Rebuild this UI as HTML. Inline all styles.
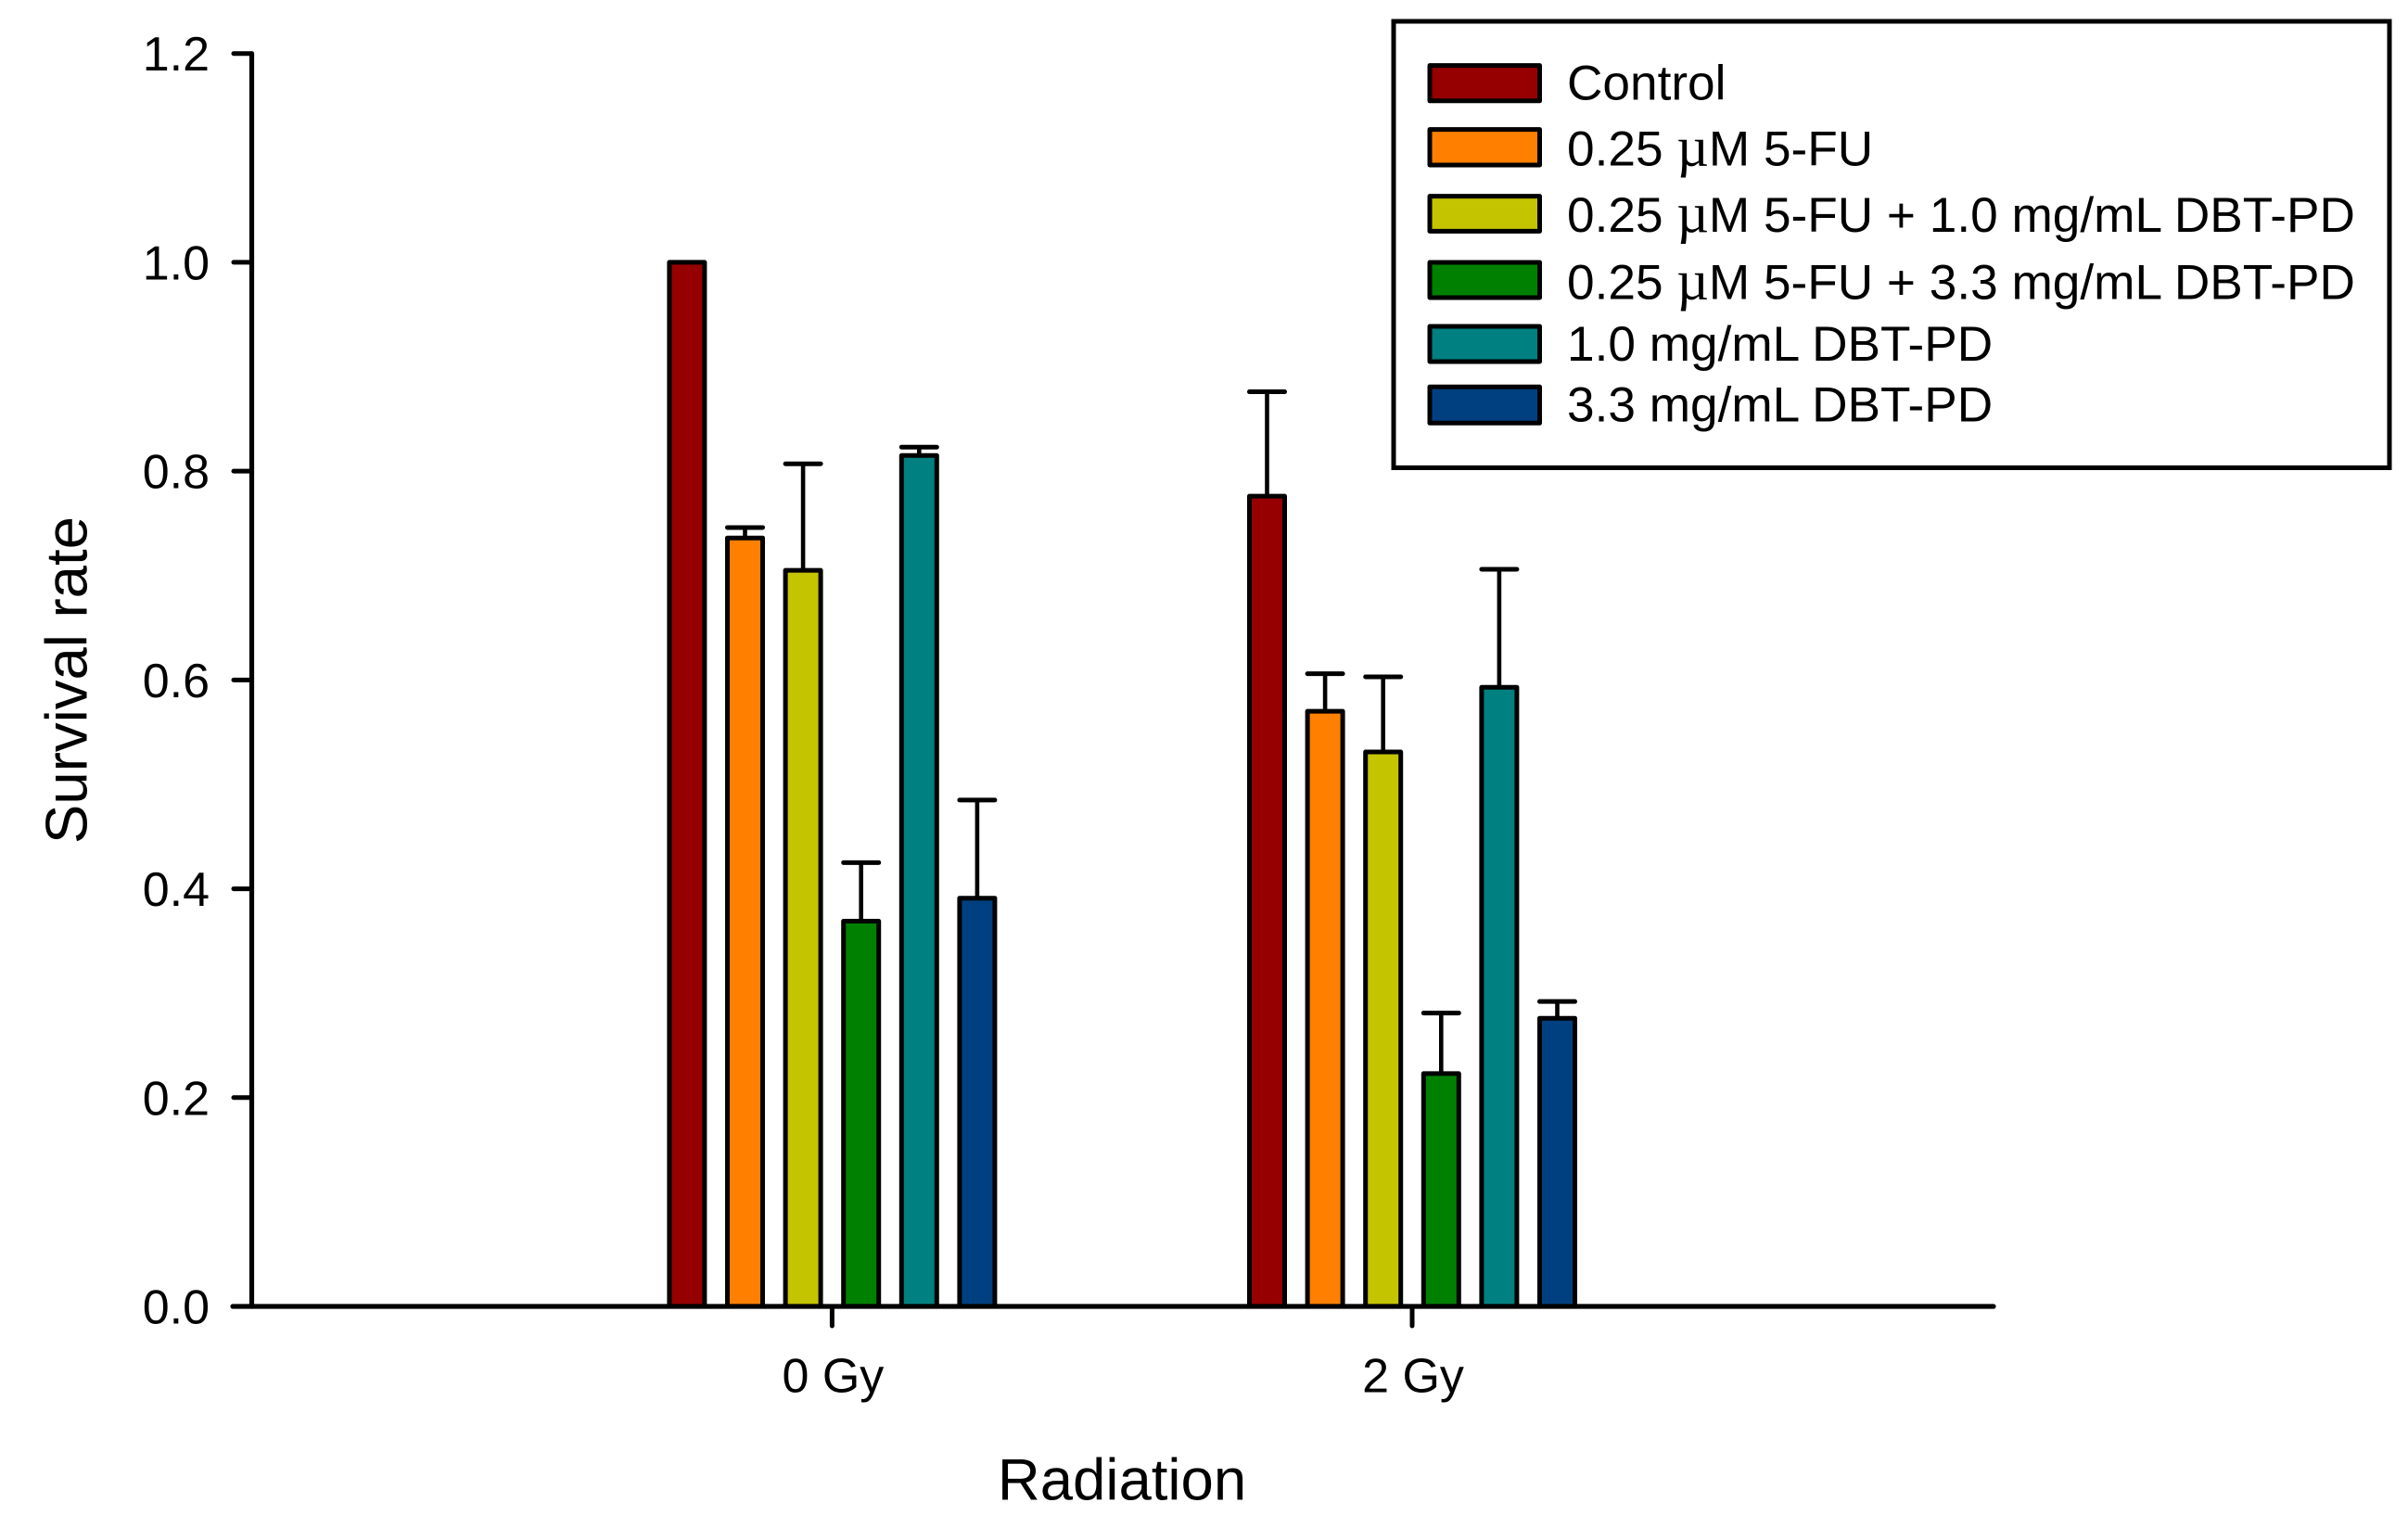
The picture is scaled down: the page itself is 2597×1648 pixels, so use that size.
<!DOCTYPE html>
<html lang="en">
<head>
<meta charset="utf-8">
<title>Survival rate by radiation dose</title>
<style>
  html, body { margin: 0; padding: 0; background: #ffffff; }
  body { width: 2597px; height: 1648px; overflow: hidden; }
  svg { display: block; }
  text { font-family: "Liberation Sans", Arial, sans-serif; fill: #000; }
  .mu { font-family: "Liberation Serif", serif; font-size: 60px; }
  .legend-label { font-size: 53.2px; }
  .tick-label { font-size: 52px; }
  .axis-title { font-size: 63.5px; }
  .s0 { fill: #960000; }
  .s1 { fill: #ff8000; }
  .s2 { fill: #c4c400; }
  .s3 { fill: #008000; }
  .s4 { fill: #008080; }
  .s5 { fill: #004080; }
  .mark { stroke: #000; stroke-width: 5; stroke-linejoin: round; }
  .axis { stroke: #000; stroke-width: 5.2; stroke-linecap: round; fill: none; }
  .tick { stroke: #000; stroke-width: 5; stroke-linecap: round; fill: none; }
  .whisker { stroke: #000; stroke-width: 4.6; fill: none; }
  .cap { stroke: #000; stroke-width: 5; stroke-linecap: round; fill: none; }
</style>
</head>
<body>
<svg id="chart" xmlns="http://www.w3.org/2000/svg" width="2597" height="1648" viewBox="0 0 2597 1648">
  <rect x="0" y="0" width="2597" height="1648" fill="#ffffff"/>

  <g id="marks"></g>

  <line class="axis" x1="271.5" y1="57.7" x2="271.5" y2="1409"/>
  <line class="axis" x1="251" y1="1409" x2="2150" y2="1409"/>
  <g id="y-ticks"></g>
  <g id="x-ticks"></g>

  <text class="axis-title" transform="translate(93.5 733.5) rotate(-90)" text-anchor="middle">Survival rate</text>
  <text class="axis-title" x="1210" y="1617.5" text-anchor="middle">Radiation</text>

  <g>
    <rect x="1503" y="23" width="1074" height="481.5" fill="#ffffff" stroke="#000" stroke-width="5"/>

    <g>
      <rect class="mark s0" x="1542" y="70.6" width="118.5" height="38.2"/>
      <text class="legend-label" x="1690" y="107.5">Control</text>
    </g>
    <g>
      <rect class="mark s1" x="1542" y="139.6" width="118.5" height="38.4"/>
      <text class="legend-label" x="1690" y="178.5">0.25 <tspan class="mu">µ</tspan>M 5-FU</text>
    </g>
    <g>
      <rect class="mark s2" x="1542" y="211.6" width="118.5" height="37.8"/>
      <text class="legend-label" x="1690" y="250">0.25 <tspan class="mu">µ</tspan>M 5-FU + 1.0 mg/mL DBT-PD</text>
    </g>
    <g>
      <rect class="mark s3" x="1542" y="283" width="118.5" height="38"/>
      <text class="legend-label" x="1690" y="322.5">0.25 <tspan class="mu">µ</tspan>M 5-FU + 3.3 mg/mL DBT-PD</text>
    </g>
    <g>
      <rect class="mark s4" x="1542" y="352" width="118.5" height="38"/>
      <text class="legend-label" x="1690" y="389">1.0 mg/mL DBT-PD</text>
    </g>
    <g>
      <rect class="mark s5" x="1542" y="417.3" width="118.5" height="39"/>
      <text class="legend-label" x="1690" y="454.5">3.3 mg/mL DBT-PD</text>
    </g>
  </g>
</svg>

<script>
const categories = ["0 Gy", "2 Gy"];
const seriesNames = ["control", "5fu", "5fu-dbt-1", "5fu-dbt-3", "dbt-1", "dbt-3"];
const yTickValues = [0.0, 0.2, 0.4, 0.6, 0.8, 1.0, 1.2];
const valuesControl = [1.000, 0.776];
const values5fu = [0.736, 0.570];
const values5fuDbt1 = [0.705, 0.531];
const values5fuDbt3 = [0.369, 0.223];
const valuesDbt1 = [0.815, 0.593];
const valuesDbt3 = [0.391, 0.276];
const errorsControl = [0.000, 0.100];
const errors5fu = [0.010, 0.036];
const errors5fuDbt1 = [0.102, 0.072];
const errors5fuDbt3 = [0.056, 0.058];
const errorsDbt1 = [0.008, 0.113];
const errorsDbt3 = [0.094, 0.016];

const seriesValues = [valuesControl, values5fu, values5fuDbt1, values5fuDbt3, valuesDbt1, valuesDbt3];
const seriesErrors = [errorsControl, errors5fu, errors5fuDbt1, errors5fuDbt3, errorsDbt1, errorsDbt3];

const SVG_NS = "http://www.w3.org/2000/svg";
const plot = { yZero: 1409, yTop: 57.7, yMax: 1.2, firstGroup: 897.4, groupStep: 625.6, barStep: 62.6, barWidth: 38 };

function yScale(v) { return plot.yZero - (v / plot.yMax) * (plot.yZero - plot.yTop); }
function xGroup(g) { return plot.firstGroup + g * plot.groupStep; }
function xBar(g, s) { return xGroup(g) + (s - (seriesValues.length - 1) / 2) * plot.barStep; }

function shape(tag, attrs, parent) {
  const el = document.createElementNS(SVG_NS, tag);
  for (const key in attrs) el.setAttribute(key, attrs[key]);
  parent.appendChild(el);
  return el;
}

const marks = document.getElementById("marks");
categories.forEach(function (cat, g) {
  const catKey = cat.toLowerCase().replace(" ", "-");
  seriesValues.forEach(function (vals, s) {
    const cx = xBar(g, s);
    const top = yScale(vals[g]);
    const err = seriesErrors[s][g];
    if (err > 0) {
      const capY = yScale(vals[g] + err);
      const whisker = shape("line", { class: "whisker", x1: cx, x2: cx, y1: top, y2: capY }, marks);
      
      
      const cap = shape("line", { class: "cap", x1: cx - plot.barWidth / 2, x2: cx + plot.barWidth / 2, y1: capY, y2: capY }, marks);
      
      
    }
    const bar = shape("rect", { class: "mark s" + s, x: cx - plot.barWidth / 2, y: top, width: plot.barWidth, height: plot.yZero - top }, marks);
    
    
  });
});

const yTicks = document.getElementById("y-ticks");
yTickValues.forEach(function (v) {
  const y = yScale(v);
  const tick = shape("line", { class: "tick", x1: 252, x2: 271, y1: y, y2: y }, yTicks);
  
  
  const label = shape("text", { class: "tick-label", x: 226, y: y + 18.5, "text-anchor": "end" }, yTicks);
  label.textContent = v.toFixed(1);
  
  
});

const xTicks = document.getElementById("x-ticks");
categories.forEach(function (cat, g) {
  const x = xGroup(g);
  const tick = shape("line", { class: "tick", x1: x, x2: x, y1: plot.yZero, y2: 1430 }, xTicks);
  
  
  const label = shape("text", { class: "tick-label", x: x + 1, y: 1501.5, "text-anchor": "middle" }, xTicks);
  label.textContent = cat;
  
  
});
</script>
</body>
</html>
